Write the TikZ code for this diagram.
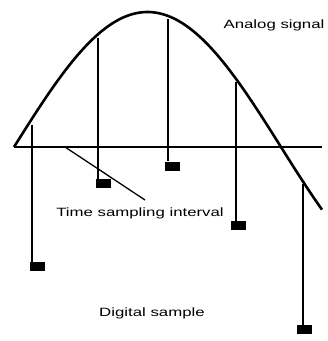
\documentclass[tikz,border=0pt]{standalone}
\usepackage{fontspec}
\newfontfamily\labelfont[FakeStretch=1.4]{Liberation Sans}
\begin{document}
\begin{tikzpicture}[x=1pt,y=-1pt,
  curve/.style={line width=2.6pt},
  axisline/.style={line width=1.3pt},
  sampleline/.style={line width=1.6pt},
  samplebox/.style={fill=black,draw=none,minimum width=15pt,minimum height=9pt,inner sep=0pt},
  tickmark/.style={line width=0.8pt},
  lbl/.style={font=\labelfont\fontsize{12}{14}\selectfont,inner sep=0pt}]
\useasboundingbox (0,0) rectangle (328,341);
% axis
\coordinate (a0) at (14,147);
\coordinate (a1) at (322,147);
\draw[axisline] (a0) -- (a1);
% analog signal
\draw[curve,domain=14:322,samples=120,smooth] plot (\x,{147-135*sin(0.674157*(\x-14))});
% points on the curve
\coordinate (c1) at (32,{147-135*sin(0.674157*(32-14))+6});
\coordinate (c2) at (98,{147-135*sin(0.674157*(98-14))+4});
\coordinate (c3) at (168,{147-135*sin(0.674157*(168-14))+3});
\coordinate (c4) at (236,{147-135*sin(0.674157*(236-14))+3});
\coordinate (c5) at (303,{147-135*sin(0.674157*(303-14))+2});
% digital samples
\node[samplebox] (b1) at (37.5,266.5) {};
\node[samplebox] (b2) at (103.5,183.5) {};
\node[samplebox] (b3) at (172,166) {};
\node[samplebox] (b4) at (238,225.5) {};
\node[samplebox] (b5) at (304,329.5) {};
\foreach \i in {1,...,5}{
  \draw[sampleline] (c\i) -- (c\i |- b\i.north);
  \draw[tickmark] ([yshift=1pt]c\i |- b\i.south) -- ([yshift=6pt]c\i |- b\i.south);
}
% pointer for time sampling interval
\coordinate (p1) at (65,147);
\coordinate (p2) at (145,200);
\draw[axisline] (p1) -- (p2);
% labels
\node[lbl] (t1) at (274,25) {Analog signal};
\node[lbl] (t2) at (140,213) {Time sampling interval};
\node[lbl] (t3) at (152,313) {Digital sample};
\end{tikzpicture}
\end{document}
